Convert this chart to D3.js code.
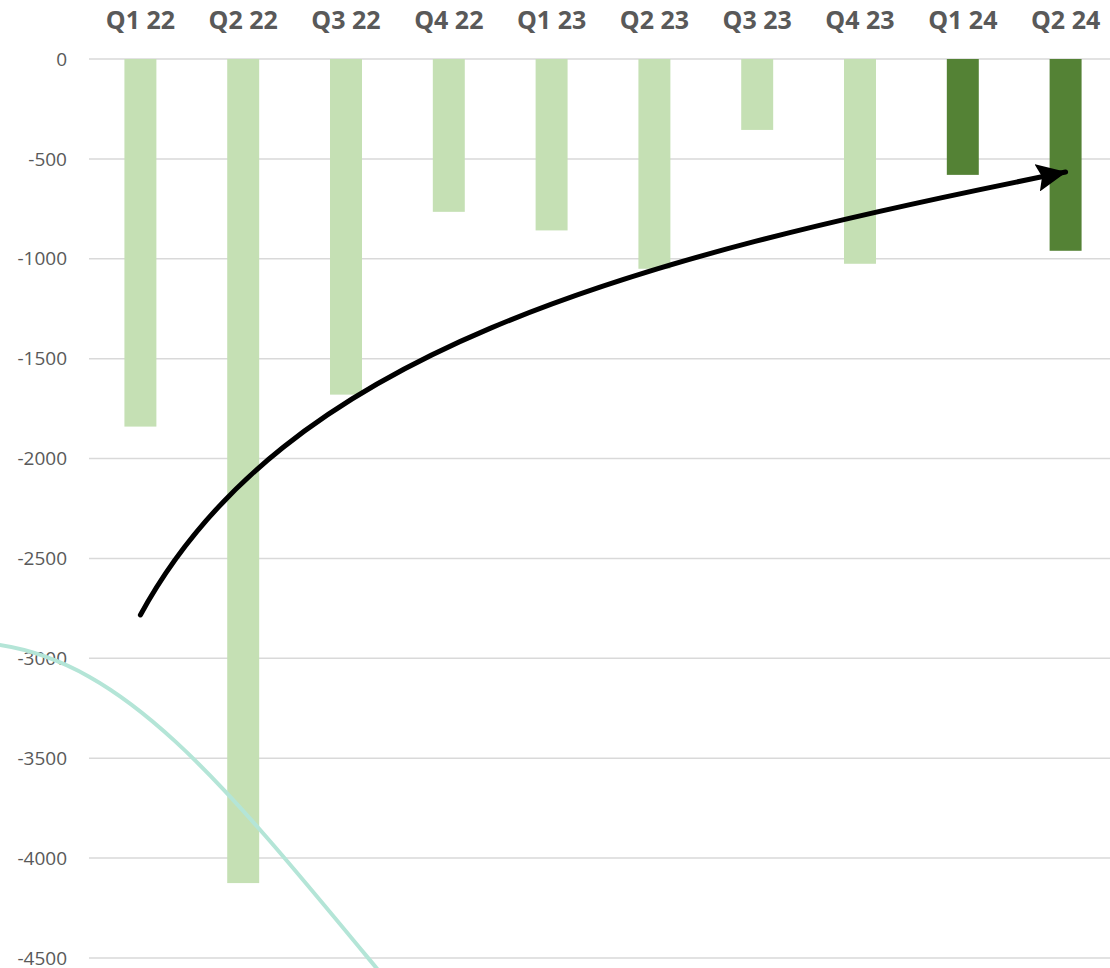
<!DOCTYPE html>
<html>
<head>
<meta charset="utf-8">
<script src="https://cdn.jsdelivr.net/npm/d3@7"></script>
<style>
  html, body { margin: 0; padding: 0; background: #fff; }
  svg { display: block; }
</style>
</head>
<body>
<div id="chart"></div>
<script>
var quarters = ['Q1 22', 'Q2 22', 'Q3 22', 'Q4 22', 'Q1 23', 'Q2 23', 'Q3 23', 'Q4 23', 'Q1 24', 'Q2 24'];
var values = [-1840, -4125, -1680, -765, -858, -1050, -355, -1025, -580, -960];
var highlight = [false, false, false, false, false, false, false, false, true, true];
var yTicks = [0, -500, -1000, -1500, -2000, -2500, -3000, -3500, -4000, -4500];

// annotation curves as cubic beziers, in (category index, value) space
var arrowIdx = [0, 1.391, 4.709, 9.0];
var arrowVal = [-2783, -1467, -1006, -566];
var tealIdx = [-1.372, -0.107, 0.846, 2.36];
var tealVal = [-2933, -3031, -3649, -4590];

var width = 1110, height = 968;
var margin = {top: 59, left: 89};

var svg = d3.select('#chart').append('svg')
    .attr('width', width).attr('height', height);

var x = d3.scaleBand().domain(quarters)
    .range([margin.left, 1117])
    .paddingInner(0.689).paddingOuter(0.3445);

var y = d3.scaleLinear().domain([0, -4500]).range([margin.top, 958]);

// index scale for annotations, centred on bands
var xi = d3.scaleLinear().domain([0, 9])
    .range([x(quarters[0]) + x.bandwidth() / 2, x(quarters[9]) + x.bandwidth() / 2]);

function bezier(idx, val) {
    var p = d3.path();
    p.moveTo(xi(idx[0]), y(val[0]));
    p.bezierCurveTo(xi(idx[1]), y(val[1]), xi(idx[2]), y(val[2]), xi(idx[3]), y(val[3]));
    return p.toString();
}

// gridlines
svg.append('g').selectAll('line').data(yTicks).enter().append('line')
    .attr('x1', margin.left).attr('x2', width)
    .attr('y1', function (d) { return y(d); })
    .attr('y2', function (d) { return y(d); })
    .attr('stroke', '#d9d9d9').attr('stroke-width', 1.5);

// y labels
svg.append('g').selectAll('text').data(yTicks).enter().append('text')
    .attr('x', 67)
    .attr('y', function (d) { return y(d); })
    .attr('dy', '0.35em')
    .attr('text-anchor', 'end')
    .attr('font-family', 'Open Sans, sans-serif')
    .attr('font-size', 19)
    .attr('fill', '#595959')
    .text(function (d) { return d; });

// category labels
svg.append('g').selectAll('text').data(quarters).enter().append('text')
    .attr('x', function (d) { return x(d) + x.bandwidth() / 2; })
    .attr('y', 20)
    .attr('dy', '0.35em')
    .attr('text-anchor', 'middle')
    .attr('font-family', 'Open Sans, sans-serif')
    .attr('font-weight', 'bold')
    .attr('font-size', 25)
    .attr('fill', '#595959')
    .text(function (d) { return d; });

// bars
svg.append('g').selectAll('rect').data(values).enter().append('rect')
    .attr('x', function (d, i) { return x(quarters[i]); })
    .attr('y', y(0))
    .attr('width', x.bandwidth())
    .attr('height', function (d) { return y(d) - y(0); })
    .attr('fill', function (d, i) { return highlight[i] ? '#548235' : '#c5e0b4'; });

// teal curve
svg.append('path')
    .attr('d', bezier(tealIdx, tealVal))
    .attr('fill', 'none')
    .attr('stroke', '#b4e5d7')
    .attr('stroke-width', 4);

// arrow
var defs = svg.append('defs');
defs.append('marker')
    .attr('id', 'head')
    .attr('markerUnits', 'userSpaceOnUse')
    .attr('viewBox', '0 0 30 28')
    .attr('refX', 29).attr('refY', 14)
    .attr('markerWidth', 30).attr('markerHeight', 28)
    .attr('orient', 'auto')
    .append('path')
    .attr('d', 'M0,0 L30,14 L0,28 L5,14 Z')
    .attr('fill', '#000');

svg.append('path')
    .attr('d', bezier(arrowIdx, arrowVal))
    .attr('fill', 'none')
    .attr('stroke', '#000')
    .attr('stroke-width', 5)
    .attr('stroke-linecap', 'round')
    .attr('marker-end', 'url(#head)');
</script>
</body>
</html>
